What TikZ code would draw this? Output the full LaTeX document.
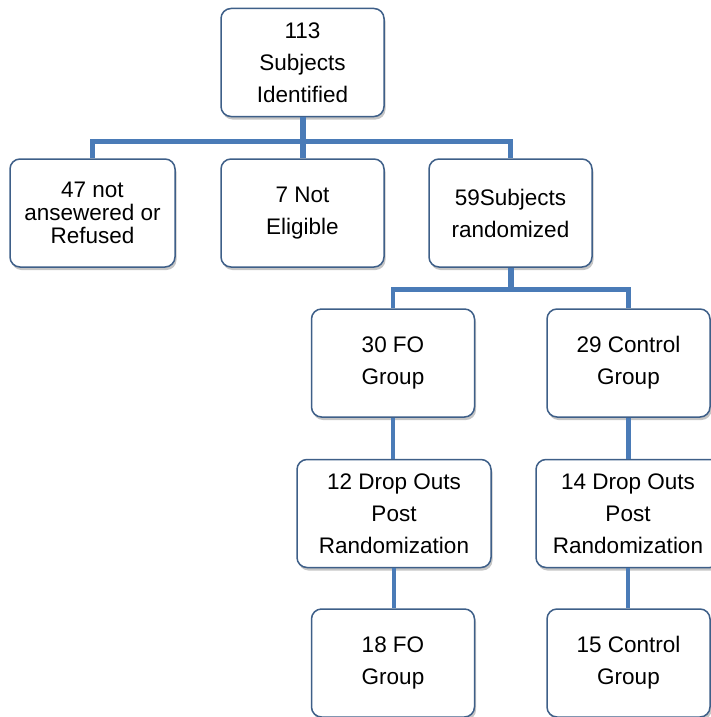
\documentclass[tikz,border=0pt]{standalone}
\usepackage{fontspec}
\setmainfont{Liberation Sans}
\usetikzlibrary{shadows}
\definecolor{boxline}{HTML}{3E5F88}
\definecolor{conn}{HTML}{4A7BB7}
\begin{document}
\begin{tikzpicture}[x=1pt,y=-1pt,
  box/.style={draw=boxline, line width=1.5pt, fill=white, rounded corners=10pt,
    minimum width=163pt, minimum height=108pt, align=center, inner sep=0pt,
    font=\fontsize{22.5}{32}\selectfont,
    drop shadow={shadow xshift=1.5pt, shadow yshift=-3pt, opacity=0.5, fill=black!45}},
  link/.style={draw=conn, line width=4.5pt},
  trunk/.style={draw=conn, line width=6pt}]
\useasboundingbox (0,0) rectangle (710,717);
\node[box] (top) at (302.5,62.5) {113\\Subjects\\Identified};
\node[box, minimum width=165pt, font=\fontsize{22.5}{23}\selectfont] (b1) at (92.5,213) {47 not\\ansewered or\\Refused};
\node[box] (b2) at (302.5,213) {7 Not\\Eligible};
\node[box] (b3) at (510.5,213) {59Subjects\\randomized};
\node[box] (c1) at (393,363) {30 FO\\Group};
\node[box] (c2) at (628.5,363) {29 Control\\Group};
\node[box, minimum width=194pt] (d1) at (394,513.5) {12 Drop Outs\\Post\\Randomization};
\node[box, minimum width=184pt] (d2) at (628,513.5) {14 Drop Outs\\Post\\Randomization};
\node[box] (e1) at (393,663) {18 FO\\Group};
\node[box] (e2) at (628.5,663) {15 Control\\Group};
% connectors
\draw[trunk] (top.south) -- (top.south |- b2.north);
\draw[link] (b1.north) -- ++(0,-17) -| (b3.north);
\draw[trunk] (b3.south) -- ++(0,23);
\draw[link] (c1.north) -- ++(0,-19) -| (c2.north);
\draw[link] (c1.south) -- (c1.south |- d1.north);
\draw[link] (c2.south) -- (c2.south |- d2.north);
\draw[link] (d1.south) -- (d1.south |- e1.north);
\draw[link] (d2.south) -- (d2.south |- e2.north);
\end{tikzpicture}
\end{document}
